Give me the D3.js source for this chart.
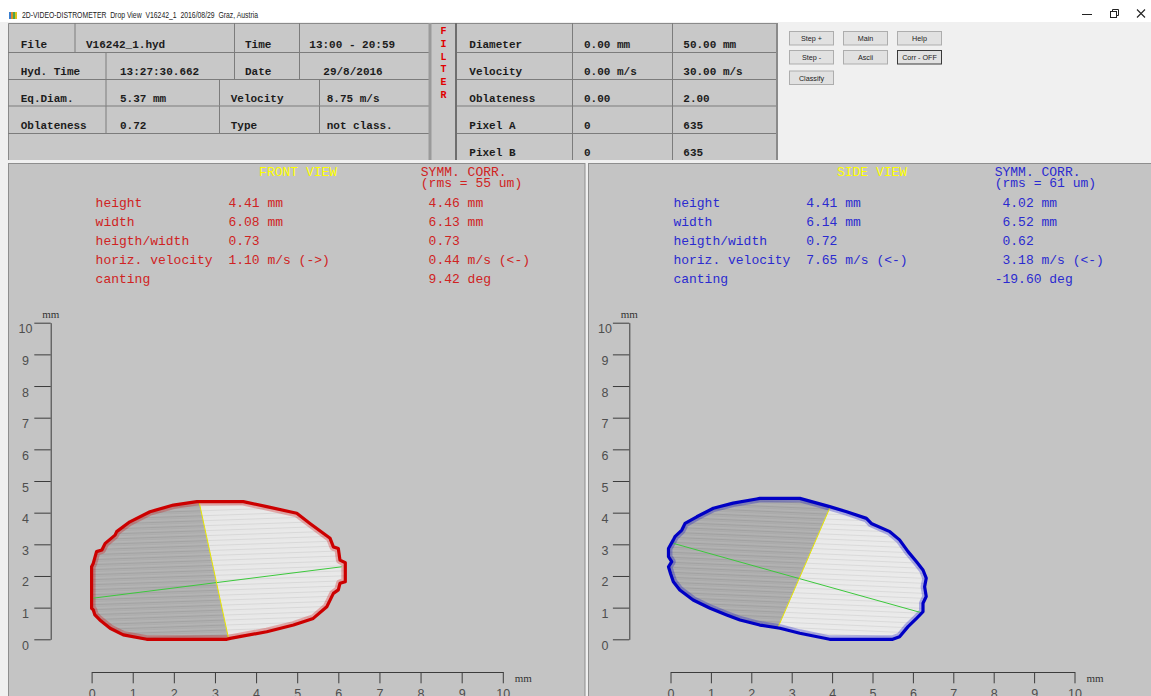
<!DOCTYPE html>
<html>
<head>
<meta charset="utf-8">
<script src="https://cdn.jsdelivr.net/npm/d3@7"></script>
<style>
  html, body { margin: 0; padding: 0; background: #f0f0f0; overflow: hidden; }
  svg { display: block; }
  text { white-space: pre; }
</style>
</head>
<body>
<svg id="chart" width="1151" height="696"></svg>
<script>
// ---------- data ----------
const windowTitle = "2D-VIDEO-DISTROMETER  Drop View  V16242_1  2016/08/29  Graz, Austria";

const headerRows = [
  ["File", "V16242_1.hyd", "Time", "13:00 - 20:59"],
  ["Hyd. Time", "13:27:30.662", "Date", "29/8/2016"],
  ["Eq.Diam.", "5.37 mm", "Velocity", "8.75 m/s"],
  ["Oblateness", "0.72", "Type", "not class."]
];

const filterTitle = ["F", "I", "L", "T", "E", "R"];
const filterRows = [
  ["Diameter", "0.00 mm", "50.00 mm"],
  ["Velocity", "0.00 m/s", "30.00 m/s"],
  ["Oblateness", "0.00", "2.00"],
  ["Pixel A", "0", "635"],
  ["Pixel B", "0", "635"]
];

const buttonRows = [
  ["Step +", "Main", "Help"],
  ["Step -", "Ascii", "Corr - OFF"],
  ["Classify"]
];

const statLabels = ["height", "width", "heigth/width", "horiz. velocity", "canting"];

const frontTitle = "FRONT VIEW";
const frontRms = "(rms = 55 um)";
const frontMeasured = ["4.41 mm", "6.08 mm", "0.73", "1.10 m/s (->)", ""];
const frontSymm = [" 4.46 mm", " 6.13 mm", " 0.73", " 0.44 m/s (<-)", " 9.42 deg"];

const sideTitle = "SIDE VIEW";
const sideRms = "(rms = 61 um)";
const sideMeasured = ["4.41 mm", "6.14 mm", "0.72", "7.65 m/s (<-)", ""];
const sideSymm = [" 4.02 mm", " 6.52 mm", " 0.62", " 3.18 m/s (<-)", "-19.60 deg"];

const symmTitle = "SYMM. CORR.";
const axisUnit = "mm";
const axisTicks = [0, 1, 2, 3, 4, 5, 6, 7, 8, 9, 10];

// drop contours in mm (x, y)
const frontOutline = [
  [2.56,4.35],[3.69,4.35],[4.26,4.19],[4.99,3.98],[5.31,3.66],[5.80,3.19],[5.88,2.92],
  [6.00,2.87],[6.04,2.50],[6.17,2.42],[6.17,1.82],[6.04,1.77],[6.00,1.56],[5.88,1.45],
  [5.72,1.03],[5.39,0.66],[4.91,0.45],[4.26,0.24],[3.37,0.03],[3.29,0.00],[1.34,0.00],
  [0.77,0.14],[0.45,0.35],[0.20,0.61],[0.08,0.77],[0.04,0.93],[0.00,0.98],[0.00,1.35],
  [0.00,2.29],[0.04,2.40],[0.12,2.77],[0.25,2.82],[0.33,3.03],[0.57,3.29],[0.61,3.40],
  [0.93,3.71],[1.42,4.03],[1.99,4.24]
];
const frontSymmAxis = [[2.61,4.37],[3.33,0.03]];
const frontMainAxis = [[0.04,1.30],[6.08,2.29]];

const sideOutline = [
  [2.21,4.45],[3.20,4.45],[3.94,4.19],[4.36,4.03],[4.85,3.82],[4.97,3.66],[5.43,3.40],
  [5.67,3.14],[5.88,2.77],[6.09,2.45],[6.25,2.19],[6.33,1.93],[6.29,1.66],[6.33,1.35],
  [6.25,1.14],[6.25,0.87],[6.09,0.66],[5.88,0.40],[5.67,0.08],[5.50,0.00],[3.94,0.00],
  [3.20,0.19],[2.71,0.35],[2.21,0.45],[1.72,0.61],[1.39,0.77],[0.98,0.98],[0.56,1.24],
  [0.23,1.56],[0.07,1.82],[0.00,2.08],[-0.05,2.29],[0.03,2.45],[-0.05,2.61],[-0.05,2.87],
  [0.07,3.14],[0.11,3.24],[0.28,3.45],[0.36,3.66],[0.65,3.87],[1.06,4.14],[1.55,4.30],
  [2.13,4.43]
];
const sideSymmAxis = [[3.94,4.14],[2.67,0.40]];
const sideMainAxis = [[0.07,3.03],[6.21,0.84]];

// ---------- drawing ----------
const svg = d3.select("#chart");
const W = 1151, H = 696;
const defs = svg.append("defs");
const MONO = "'Liberation Mono', 'Courier New', monospace";
const SANS = "'Liberation Sans', Arial, sans-serif";

// window frame / title bar
svg.append("rect").attr("width", W).attr("height", H).attr("fill", "#f0f0f0");
svg.append("rect").attr("width", W).attr("height", 22).attr("fill", "#ffffff");
const iconCols = ["#3a7fd0", "#e08a2a", "#4aa84a", "#e0c020"];
iconCols.forEach((c, i) => {
  svg.append("rect").attr("x", 9 + i * 2).attr("y", 12).attr("width", 2).attr("height", 7).attr("fill", c);
});
svg.append("text").attr("x", 22).attr("y", 18).attr("font-family", SANS)
  .attr("font-size", 8.6).attr("fill", "#222").attr("textLength", 236).attr("lengthAdjust", "spacingAndGlyphs")
  .text(windowTitle);
// caption buttons
svg.append("line").attr("x1", 1082).attr("x2", 1092).attr("y1", 14.5).attr("y2", 14.5).attr("stroke", "#222");
svg.append("rect").attr("x", 1110.5).attr("y", 11.5).attr("width", 6).attr("height", 6).attr("fill", "none").attr("stroke", "#222");
svg.append("path").attr("d", "M1112.5,11.5V9.5H1118.5V15.5H1116.5").attr("fill", "none").attr("stroke", "#222");
svg.append("path").attr("d", "M1137,9.5L1145,17.5M1145,9.5L1137,17.5").attr("stroke", "#222").attr("stroke-width", 1.1);

// ---- header: info table ----
const hdrTop = 23, hdrBot = 160;
const rowLines = [52, 79, 105.5, 133];
const hdr = svg.append("g");
hdr.append("rect").attr("x", 8).attr("y", hdrTop).attr("width", 769).attr("height", hdrBot - hdrTop).attr("fill", "#c8c8c8");
hdr.append("path").attr("d", `M8.5,${hdrBot}V${hdrTop + 0.5}H777`).attr("fill", "none").attr("stroke", "#8a8a8a");
const gridStroke = "#7c7c7c";
rowLines.forEach(yy => {
  hdr.append("line").attr("x1", 8).attr("x2", 430).attr("y1", yy + 0.5).attr("y2", yy + 0.5).attr("stroke", gridStroke);
  hdr.append("line").attr("x1", 457).attr("x2", 777).attr("y1", yy + 0.5).attr("y2", yy + 0.5).attr("stroke", gridStroke);
});
const rowTops = [hdrTop, 52, 79, 105.5];
const rowBots = [52, 79, 105.5, 133];
const dividers = [[75, 234.5, 299.5], [106, 234.5, 299.5], [106, 219.5, 319.5], [106, 219.5, 319.5]];
dividers.forEach((xs, r) => xs.forEach(xx => {
  hdr.append("line").attr("x1", xx).attr("x2", xx).attr("y1", rowTops[r]).attr("y2", rowBots[r]).attr("stroke", gridStroke);
}));
[[430, "#9a9a9a", 3], [456, "#6e6e6e", 2], [572.5, gridStroke, 1], [672.5, gridStroke, 1], [777, "#8a8a8a", 2]].forEach(([xx, c, w]) => {
  hdr.append("line").attr("x1", xx).attr("x2", xx).attr("y1", hdrTop).attr("y2", hdrBot).attr("stroke", c).attr("stroke-width", w);
});
const hdrColX = [[20.7, 86, 245, 309.3], [20.7, 120, 245, 323.3], [20.7, 120, 230.7, 326.7], [20.7, 120, 230.7, 326.7]];
const hdrBase = [47.5, 74.5, 101.5, 128.5];
headerRows.forEach((row, r) => row.forEach((t, c) => {
  hdr.append("text").attr("x", hdrColX[r][c]).attr("y", hdrBase[r]).attr("font-family", MONO)
    .attr("font-weight", "bold").attr("font-size", 11).attr("fill", "#1c1c1c").text(t);
}));
filterTitle.forEach((t, i) => {
  hdr.append("text").attr("x", 443.5).attr("y", 34 + i * 12.8).attr("text-anchor", "middle")
    .attr("font-family", MONO).attr("font-weight", "bold").attr("font-size", 10).attr("fill", "#e00000").text(t);
});
const filtColX = [469.3, 584, 683.3];
const filtBase = [48, 75, 102, 129, 156];
filterRows.forEach((row, r) => row.forEach((t, c) => {
  hdr.append("text").attr("x", filtColX[c]).attr("y", filtBase[r]).attr("font-family", MONO)
    .attr("font-weight", "bold").attr("font-size", 11).attr("fill", "#1c1c1c").text(t);
}));

// ---- header: button panel ----
svg.append("rect").attr("x", 778).attr("y", hdrTop).attr("width", W - 778).attr("height", hdrBot - hdrTop).attr("fill", "#f0f0f0");
const btnX = [789, 843, 897], btnY = [31, 50, 70.5];
buttonRows.forEach((row, r) => row.forEach((t, c) => {
  const dark = t === "Corr - OFF";
  svg.append("rect").attr("x", btnX[c] + 0.5).attr("y", btnY[r] + 0.5).attr("width", 44).attr("height", 13.5)
    .attr("fill", "#e1e1e1").attr("stroke", dark ? "#3a3a3a" : "#adadad");
  svg.append("text").attr("x", btnX[c] + 22.5).attr("y", btnY[r] + 10).attr("text-anchor", "middle")
    .attr("font-family", SANS).attr("font-size", 7.2).attr("fill", "#222").text(t);
}));

// ---- streak textures for the drop silhouettes ----
function streakPattern(id, angle) {
  const p = defs.append("pattern").attr("id", id).attr("patternUnits", "userSpaceOnUse")
    .attr("width", 12).attr("height", 5).attr("patternTransform", `rotate(${angle})`);
  p.append("rect").attr("y", 0.5).attr("width", 12).attr("height", 0.8).attr("fill", "#ffffff").attr("opacity", 0.28);
  p.append("rect").attr("y", 2.2).attr("width", 12).attr("height", 0.7).attr("fill", "#777777").attr("opacity", 0.18);
  p.append("rect").attr("y", 3.6).attr("width", 12).attr("height", 0.6).attr("fill", "#ffffff").attr("opacity", 0.18);
}
streakPattern("streakF", -2);
streakPattern("streakS", 2.5);

// ---- view panels ----
const panelTop = 163;
svg.append("rect").attr("x", 8.5).attr("y", panelTop + 0.5).attr("width", 576.5).attr("height", H).attr("fill", "#c4c4c4").attr("stroke", "#8e8e8e");
svg.append("rect").attr("x", 588.5).attr("y", panelTop + 0.5).attr("width", W).attr("height", H).attr("fill", "#c4c4c4").attr("stroke", "#8e8e8e");

const yScale = d3.scaleLinear([0, 10], [639.3, 322.7]);

function drawView(cfg) {
  const g = svg.append("g");
  const x = d3.scaleLinear([0, 10], [cfg.x0, cfg.x10]);
  const y = yScale;
  const ln = d3.line().x(d => x(d[0])).y(d => y(d[1]));
  const closed = d3.line().x(d => x(d[0])).y(d => y(d[1])).curve(d3.curveLinearClosed);

  // statistics text block
  const tx = g.append("g").attr("font-family", MONO).attr("font-size", 13);
  tx.append("text").attr("x", cfg.labelX + 163.5).attr("y", 175.7).attr("fill", "#ffff00").text(cfg.title);
  tx.append("text").attr("x", cfg.symmX).attr("y", 175.7).attr("fill", cfg.textColor).text(symmTitle);
  tx.append("text").attr("x", cfg.symmX).attr("y", 187.2).attr("fill", cfg.textColor).text(cfg.rms);
  statLabels.forEach((t, i) => {
    const by = 207 + i * 19;
    tx.append("text").attr("x", cfg.labelX).attr("y", by).attr("fill", cfg.textColor).text(t);
    tx.append("text").attr("x", cfg.labelX + 132.8).attr("y", by).attr("fill", cfg.textColor).text(cfg.measured[i]);
    tx.append("text").attr("x", cfg.symmX).attr("y", by).attr("fill", cfg.textColor).text(cfg.symm[i]);
  });

  // axes
  const axisColor = "#3c3c3c", labelColor = "#4e4e4e";
  const ya = g.append("g").attr("transform", `translate(${cfg.yAxisX},0)`)
    .call(d3.axisLeft(y).tickValues(axisTicks).tickSize(16.4).tickSizeOuter(0).tickFormat(d3.format("d")));
  ya.selectAll("path,line").attr("stroke", axisColor);
  ya.selectAll("text").attr("x", cfg.yLabelCX - cfg.yAxisX).attr("y", 6).attr("text-anchor", "middle")
    .attr("font-family", SANS).attr("font-size", 12.5).attr("fill", labelColor);
  const xa = g.append("g").attr("transform", `translate(0,672)`)
    .call(d3.axisBottom(x).tickValues(axisTicks).tickSize(11.3).tickSizeOuter(0).tickFormat(d3.format("d")));
  xa.selectAll("path,line").attr("stroke", axisColor);
  xa.selectAll("text").attr("y", 26).attr("dy", 0)
    .attr("font-family", SANS).attr("font-size", 12.5).attr("fill", labelColor);
  g.append("text").attr("x", cfg.yAxisX).attr("y", 317.5).attr("text-anchor", "middle")
    .attr("font-family", "'Liberation Serif', serif").attr("font-size", 11).attr("fill", "#333").text(axisUnit);
  g.append("text").attr("x", x(10) + 12).attr("y", 681.5)
    .attr("font-family", "'Liberation Serif', serif").attr("font-size", 11).attr("fill", "#333").text(axisUnit);

  // drop silhouette
  const clipId = cfg.id + "Clip";
  defs.append("clipPath").attr("id", clipId).append("path").attr("d", closed(cfg.outline));
  const body = g.append("g").attr("clip-path", `url(#${clipId})`);
  body.append("path").attr("d", closed(cfg.outline)).attr("fill", cfg.light);
  const [t, b] = cfg.symmAxis;
  const dx = t[0] - b[0], dy = t[1] - b[1];
  const T = [t[0] + dx, t[1] + dy], B = [b[0] - dx, b[1] - dy];
  body.append("path").attr("d", closed([T, B, [-3, B[1]], [-3, T[1]]])).attr("fill", cfg.dark);
  body.append("path").attr("d", closed(cfg.outline)).attr("fill", `url(#${cfg.pattern})`);
  body.append("path").attr("d", closed(cfg.outline)).attr("fill", "none")
    .attr("stroke", cfg.edge).attr("stroke-opacity", 0.28).attr("stroke-width", 8).attr("stroke-linejoin", "round");

  g.append("path").attr("d", ln(cfg.mainAxis)).attr("stroke", "#3cc83c").attr("stroke-width", 1).attr("fill", "none");
  g.append("path").attr("d", ln(cfg.symmAxis)).attr("stroke", "#e6e600").attr("stroke-width", 1).attr("fill", "none");
  g.append("path").attr("d", closed(cfg.outline)).attr("fill", "none")
    .attr("stroke", cfg.edge).attr("stroke-width", 3.2).attr("stroke-linejoin", "round");
}

drawView({
  id: "front", title: frontTitle, rms: frontRms, measured: frontMeasured, symm: frontSymm,
  textColor: "#d02222", labelX: 95.6, symmX: 420.8,
  x0: 91.6, x10: 502.8, yAxisX: 50.7, yLabelCX: 25.5,
  outline: frontOutline, symmAxis: frontSymmAxis, mainAxis: frontMainAxis,
  light: "#e6e6e6", dark: "#a9a9a9", edge: "#cc0000", pattern: "streakF"
});
drawView({
  id: "side", title: sideTitle, rms: sideRms, measured: sideMeasured, symm: sideSymm,
  textColor: "#2a2ad0", labelX: 673.4, symmX: 994.7,
  x0: 670.5, x10: 1074.5, yAxisX: 629.3, yLabelCX: 605,
  outline: sideOutline, symmAxis: sideSymmAxis, mainAxis: sideMainAxis,
  light: "#e8e8e8", dark: "#a7a7a7", edge: "#0000c4", pattern: "streakS"
});
</script>
</body>
</html>
